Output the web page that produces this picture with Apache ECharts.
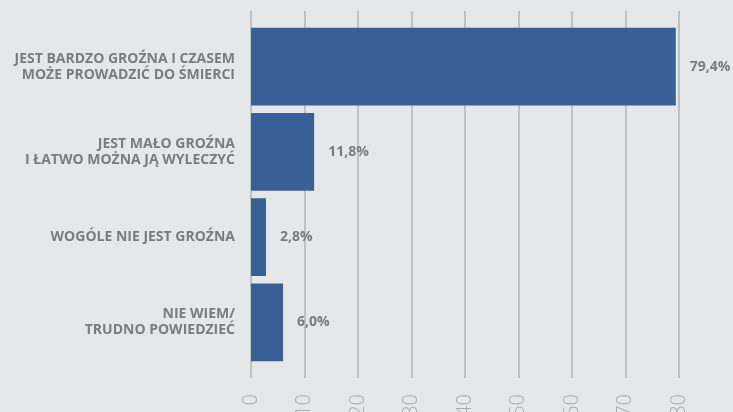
<!DOCTYPE html>
<html>
<head>
<meta charset="utf-8">
<script src="https://cdn.jsdelivr.net/npm/echarts@6/dist/echarts.min.js"></script>
<style>
  html, body { margin: 0; padding: 0; background: #e6e7e8; }
  #main { width: 733px; height: 412px; }
</style>
</head>
<body>
<div id="main"></div>
<script>
// answers, top to bottom
const categories = [
    'JEST BARDZO GROŹNA I CZASEM\nMOŻE PROWADZIĆ DO ŚMIERCI',
    'JEST MAŁO GROŹNA\nI ŁATWO MOŻNA JĄ WYLECZYĆ',
    'WOGÓLE NIE JEST GROŹNA',
    'NIE WIEM/\nTRUDNO POWIEDZIEĆ'
];
const values = [79.4, 11.8, 2.8, 6.0];
const axisMin = 0;
const axisMax = 80;
const axisStep = 10;

const barColor = '#386097';
const textGray = '#7b7c7e';

const myChart = echarts.init(document.getElementById('main'));

const option = {
    backgroundColor: '#e6e7e8',
    animation: false,
    grid: [
        // grid 0 only carries the gridlines + tick labels (they run taller than the bars)
        // tick labels are cut off by the bottom edge in the original, so no outer bounds
        { left: 251, right: 54, top: 11, bottom: 34, outerBoundsMode: 'none', containLabel: false },
        // grid 1 holds the bars
        { left: 251, right: 54, top: 24, height: 341, outerBoundsMode: 'none', containLabel: false }
    ],
    xAxis: [
        {
            gridIndex: 0,
            type: 'value',
            min: axisMin,
            max: axisMax,
            interval: axisStep,
            axisLine: { show: false },
            axisTick: { show: false },
            splitLine: { show: true, lineStyle: { color: '#b3b4b6', width: 1.5 } },
            axisLabel: {
                rotate: 90,
                margin: 16,
                color: '#a9aaac',
                fontFamily: 'Open Sans',
                fontWeight: 300,
                fontSize: 20
            }
        },
        {
            gridIndex: 1,
            type: 'value',
            min: axisMin,
            max: axisMax,
            show: false,
            splitLine: { show: false }
        }
    ],
    yAxis: [
        { gridIndex: 0, type: 'category', data: categories, show: false },
        {
            gridIndex: 1,
            type: 'category',
            data: categories,
            inverse: true,
            axisLine: { show: false },
            axisTick: { show: false },
            axisLabel: {
                margin: 16,
                align: 'right',
                color: textGray,
                fontFamily: 'Open Sans',
                fontWeight: 'bold',
                fontSize: 14,
                lineHeight: 16
            }
        }
    ],
    series: [
        {
            type: 'bar',
            xAxisIndex: 1,
            yAxisIndex: 1,
            data: values,
            barCategoryGap: '9%',
            itemStyle: { color: barColor },
            label: {
                show: true,
                position: 'right',
                distance: 14,
                color: textGray,
                fontFamily: 'Open Sans',
                fontWeight: 'bold',
                fontSize: 14,
                formatter: (p) => p.value.toFixed(1).replace('.', ',') + '%'
            }
        }
    ]
};

myChart.setOption(option);
</script>
</body>
</html>
